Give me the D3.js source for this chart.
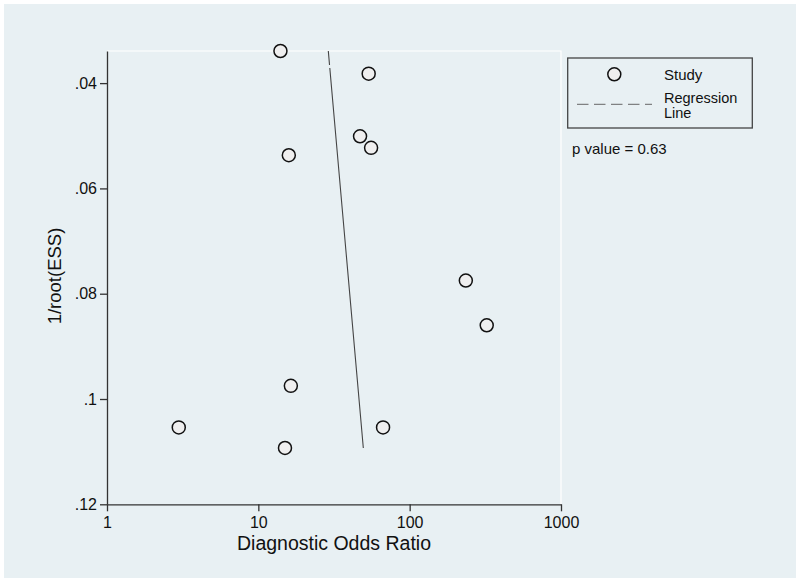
<!DOCTYPE html>
<html lang="en">
<head>
    <meta charset="UTF-8">
    <title>Deeks funnel plot</title>
    <style>
        html, body { margin: 0; padding: 0; background: #fff; overflow: hidden; }
        text { font-family: "Liberation Sans", Arial, Helvetica, sans-serif; fill: #111; }
    </style>
</head>
<body>
    <script src="https://cdn.jsdelivr.net/npm/d3@7"></script>
    <script>
        // studies: diagnostic odds ratio vs 1/root(ESS)
        const dor = [14.0, 53.6, 47.0, 55.6, 15.9, 323, 235, 16.4, 2.98, 15.0, 66.7]
        const invEss = [0.0339, 0.0382, 0.0501, 0.0523, 0.0537, 0.0860, 0.0775, 0.0975, 0.1054, 0.1093, 0.1054]

        // regression line end points (dor, 1/root(ESS))
        const regDor = [29.0, 49.4]
        const regEss = [0.0339, 0.1093]

        const xTicks = [1, 10, 100, 1000]
        const yTicks = [0.04, 0.06, 0.08, 0.1, 0.12]
        const pText = 'p value = 0.63'

        const width = 800
        const height = 583
        const margin = { top: 51, left: 107, right: 239, bottom: 78.7 }
        const bg = '#e8f0f3'

        const svg = d3.select('body').append('svg')
            .attr('width', width)
            .attr('height', height)

        svg.append('rect')
            .attr('x', 4).attr('y', 4)
            .attr('width', 792).attr('height', 574)
            .attr('fill', bg)

        const x = d3.scaleLog()
            .domain([1, 1000])
            .range([margin.left, width - margin.right])

        const y = d3.scaleLinear()
            .domain([d3.min(invEss), 0.12])
            .range([margin.top, height - margin.bottom])

        // white frame on top and right of plot region
        svg.append('path')
            .attr('d', `M${x(1)},${y.range()[0]}H${x(1000)}V${y.range()[1]}`)
            .attr('fill', 'none')
            .attr('stroke', '#fff')
            .attr('stroke-width', 1.2)

        const xAxis = svg.append('g')
            .attr('transform', `translate(0, ${y.range()[1]})`)
            .call(d3.axisBottom(x).tickValues(xTicks).tickFormat(d3.format('d')).tickSize(7).tickSizeOuter(0).tickPadding(5))
        const yAxis = svg.append('g')
            .attr('transform', `translate(${x.range()[0]}, 0)`)
            .call(d3.axisLeft(y).tickValues(yTicks)
                .tickFormat(d => d3.format('.2~f')(d).replace(/^0/, ''))
                .tickSize(7).tickSizeOuter(0).tickPadding(3))

        ;[xAxis, yAxis].forEach(a => {
            a.select('.domain').attr('stroke', '#333').attr('stroke-width', 1.3)
            a.selectAll('.tick line').attr('stroke', '#333').attr('stroke-width', 1.3)
            a.selectAll('.tick text')
                .attr('fill', '#111')
                .style('font-family', '"Liberation Sans", Arial, sans-serif')
                .style('font-size', '16px')
        })

        // axis titles
        svg.append('text')
            .attr('x', (x.range()[0] + x.range()[1]) / 2)
            .attr('y', 550)
            .attr('text-anchor', 'middle')
            .style('font-size', '19.5px')
            .text('Diagnostic Odds Ratio')

        svg.append('text')
            .attr('transform', `translate(61, 276) rotate(-90)`)
            .attr('text-anchor', 'middle')
            .style('font-size', '18.5px')
            .text('1/root(ESS)')

        // regression line
        svg.append('line')
            .attr('x1', x(regDor[0])).attr('y1', y(regEss[0]))
            .attr('x2', x(regDor[1])).attr('y2', y(regEss[1]))
            .attr('stroke', '#444')
            .attr('stroke-width', 1.1)
            .attr('stroke-dasharray', '14,3,1000')

        // study points
        svg.selectAll('.pt')
            .data(dor.map((d, i) => ({ dor: d, ess: invEss[i] })))
            .enter()
            .append('circle')
            .attr('class', 'pt')
            .attr('cx', d => x(d.dor))
            .attr('cy', d => y(d.ess))
            .attr('r', 6.5)
            .attr('fill', '#efefef')
            .attr('stroke', '#111')
            .attr('stroke-width', 1.5)

        // legend
        const lg = svg.append('g')
        lg.append('rect')
            .attr('x', 567.7).attr('y', 58)
            .attr('width', 184.6).attr('height', 70)
            .attr('fill', bg)
            .attr('stroke', '#444')
            .attr('stroke-width', 1.3)
        lg.append('circle')
            .attr('cx', 614.3).attr('cy', 74.3).attr('r', 6.5)
            .attr('fill', '#efefef').attr('stroke', '#111').attr('stroke-width', 1.5)
        lg.append('text').attr('x', 664).attr('y', 80).style('font-size', '15px').text('Study')
        lg.append('line')
            .attr('x1', 577).attr('x2', 652)
            .attr('y1', 104.3).attr('y2', 104.3)
            .attr('stroke', '#666').attr('stroke-width', 1)
            .attr('stroke-dasharray', '11.5,5.5')
        lg.append('text').attr('x', 664).attr('y', 102.5).style('font-size', '14.5px').text('Regression')
        lg.append('text').attr('x', 664).attr('y', 118).style('font-size', '14.5px').text('Line')

        svg.append('text')
            .attr('x', 572).attr('y', 154)
            .style('font-size', '15px')
            .text(pText)
    </script>
</body>
</html>
